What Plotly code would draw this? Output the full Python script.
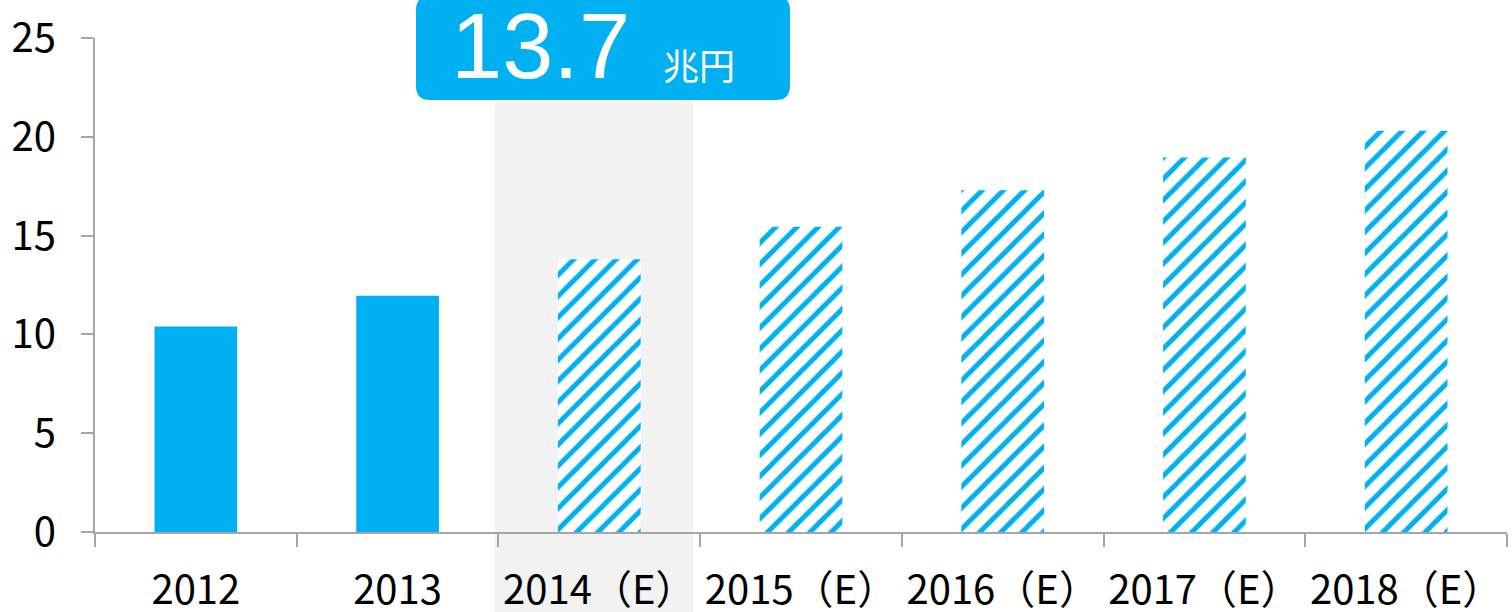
import plotly.graph_objects as go

categories = ["2012", "2013", "2014（E）", "2015（E）", "2016（E）", "2017（E）", "2018（E）"]
values = [10.4, 11.95, 13.8, 15.45, 17.3, 18.95, 20.3]
estimated = [False, False, True, True, True, True, True]
highlight_index = 2
highlight_label = "13.7"
highlight_unit = "兆円"
y_ticks = [0, 5, 10, 15, 20, 25]

BLUE = "#00b0f0"
AXIS = "#a6a6a6"
FONT = "Noto Sans CJK JP"

actual_vals = [v if not e else None for v, e in zip(values, estimated)]
est_vals = [v if e else None for v, e in zip(values, estimated)]

fig = go.Figure()
fig.add_trace(go.Bar(
    x=categories, y=actual_vals, width=0.41,
    marker=dict(color=BLUE, line=dict(width=0)),
    hoverinfo="skip",
))
fig.add_trace(go.Bar(
    x=categories, y=est_vals, width=0.41,
    marker=dict(
        color="white",
        line=dict(width=0),
        pattern=dict(shape="/", fgcolor=BLUE, fgopacity=1,
                     size=15, solidity=0.33, fillmode="overlay"),
    ),
    hoverinfo="skip",
))

W, H = 1512, 612
L, R, T, B = 95, 5, 38, 80
pw, ph = W - L - R, H - T - B

def px_x(p):
    return (p - L) / pw

def px_y(p):
    return (H - B - p) / ph

# grey highlight band behind the 2014 column
fig.add_shape(type="rect", xref="x", yref="paper",
              x0=highlight_index - 0.517, x1=highlight_index + 0.465,
              y0=px_y(612), y1=px_y(90),
              fillcolor="#f2f2f2", line=dict(width=0), layer="below")

# rounded label box
x0, x1 = px_x(416), px_x(790)
y0, y1 = px_y(100), px_y(-4)
rx, ry = 14 / pw, 14 / ph
path = (f"M {x0+rx},{y0} L {x1-rx},{y0} Q {x1},{y0} {x1},{y0+ry} "
        f"L {x1},{y1-ry} Q {x1},{y1} {x1-rx},{y1} L {x0+rx},{y1} "
        f"Q {x0},{y1} {x0},{y1-ry} L {x0},{y0+ry} Q {x0},{y0} {x0+rx},{y0} Z")
fig.add_shape(type="path", xref="paper", yref="paper", path=path,
              fillcolor=BLUE, line=dict(width=0), layer="above")

fig.add_annotation(xref="paper", yref="paper", x=px_x(540), y=px_y(46),
                   text=highlight_label, showarrow=False,
                   font=dict(family="Liberation Sans", size=92, color="white"),
                   xanchor="center", yanchor="middle")
fig.add_annotation(xref="paper", yref="paper", x=px_x(699), y=px_y(64),
                   text=highlight_unit, showarrow=False,
                   font=dict(family=FONT, size=36, color="white"),
                   xanchor="center", yanchor="middle")

fig.update_layout(
    width=W, height=H,
    margin=dict(l=L, r=R, t=T, b=B, autoexpand=False),
    paper_bgcolor="white",
    plot_bgcolor="rgba(0,0,0,0)",
    showlegend=False,
    barmode="overlay",
    font=dict(family=FONT, size=40, color="black"),
)
fig.update_xaxes(
    type="category",
    tickson="boundaries",
    tickangle=0,
    automargin=False,
    ticks="outside", ticklen=13, tickwidth=2, tickcolor=AXIS,
    showline=True, linecolor=AXIS, linewidth=2,
    showgrid=False, zeroline=False,
    tickfont=dict(family=FONT, size=40, color="black"),
    ticklabelstandoff=22,
)
fig.update_yaxes(
    range=[0, 25],
    tickvals=y_ticks,
    automargin=False,
    ticks="outside", ticklen=12, tickwidth=2, tickcolor=AXIS,
    showline=True, linecolor=AXIS, linewidth=2,
    showgrid=False, zeroline=False,
    tickfont=dict(family=FONT, size=40, color="black"),
    ticklabelstandoff=17,
)

fig.write_html(
    "out.html",
    config={"displayModeBar": False},
    post_script="document.body.style.margin='0';document.body.style.overflow='hidden';",
)
